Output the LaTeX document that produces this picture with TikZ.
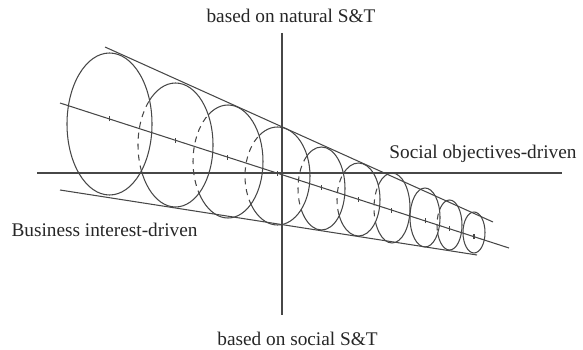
\documentclass[tikz,border=0pt]{standalone}
\usepackage{fontspec}
\setmainfont{Liberation Serif}
\usetikzlibrary{calc}
\tikzset{
  ln/.style={draw=black!72, line width=1.05pt},
  hid/.style={draw=black!72, line width=1.05pt, dash pattern=on 6pt off 5pt},
  lbl/.style={font=\fontsize{19.3}{22}\selectfont, text=black!85, inner sep=0pt},
}
\begin{document}
\begin{tikzpicture}[x=1pt,y=-1pt]
\useasboundingbox (0,0) rectangle (583,350);
% labels
\node[lbl] (top) at (291,16) {based on natural S\&T};
\node[lbl] (bot) at (297.5,339) {based on social S\&T};
\node[lbl] (soc) at (483,154) {Social objectives-driven};
\node[lbl] (bus) at (104.5,230) {Business interest-driven};
% axes
\coordinate (vT) at (282,33);  \coordinate (vB) at (282,315);
\coordinate (hL) at (37,173);  \coordinate (hR) at (562,173);
\draw[ln] (vT) -- (vB);
\draw[ln] (hL) -- (hR);
% cone lines
\coordinate (uA) at (105,47);  \coordinate (uB) at (493,222);
\coordinate (lA) at (60,190);  \coordinate (lB) at (477,255);
\coordinate (cA) at (60,103);  \coordinate (cB) at (509,248);
\draw[ln] (uA) -- (uB);
\draw[ln] (lA) -- (lB);
\draw[ln] (cA) -- (cB);
% first ellipse
\draw[ln] (109.5,124) ellipse [x radius=42.5, y radius=71];
% following ellipses: part inside the previous one is hidden (dashed)
\foreach \cx/\cy/\rx/\ry/\px/\py/\prx/\pry in {
  175.5/145/37.5/62/109.5/124/42.5/71,
  228/161.5/35/56.5/175.5/145/37.5/62,
  277.5/176/32.5/49/228/161.5/35/56.5,
  321.5/188.5/23.5/41.5/277.5/176/32.5/49,
  358.5/199.5/21.5/36.5/321.5/188.5/23.5/41.5,
  392/208/18/35/358.5/199.5/21.5/36.5,
  425/217.5/15/29.5/392/208/18/35,
  449.5/225/12.5/25/425/217.5/15/29.5,
  474/232.5/11/20.5/449.5/225/12.5/25}{
  \begin{scope}
    \clip (\px,\py) ellipse [x radius=\prx, y radius=\pry];
    \draw[hid] (\cx,\cy) ellipse [x radius=\rx, y radius=\ry];
  \end{scope}
  \begin{scope}[even odd rule]
    \clip (0,0) rectangle (583,350) (\px,\py) ellipse [x radius=\prx, y radius=\pry];
    \draw[ln] (\cx,\cy) ellipse [x radius=\rx, y radius=\ry];
  \end{scope}
}
% centre ticks on the axis of the cone
\foreach \t in {0.110,0.257,0.374,0.485,0.582,0.665,0.739,0.813,0.867,0.922}{
  \coordinate (tk) at ($(cA)!\t!(cB)$);
  \draw[ln] ([yshift=-2.5pt]tk) -- ([yshift=2.5pt]tk);
}
\end{tikzpicture}
\end{document}
